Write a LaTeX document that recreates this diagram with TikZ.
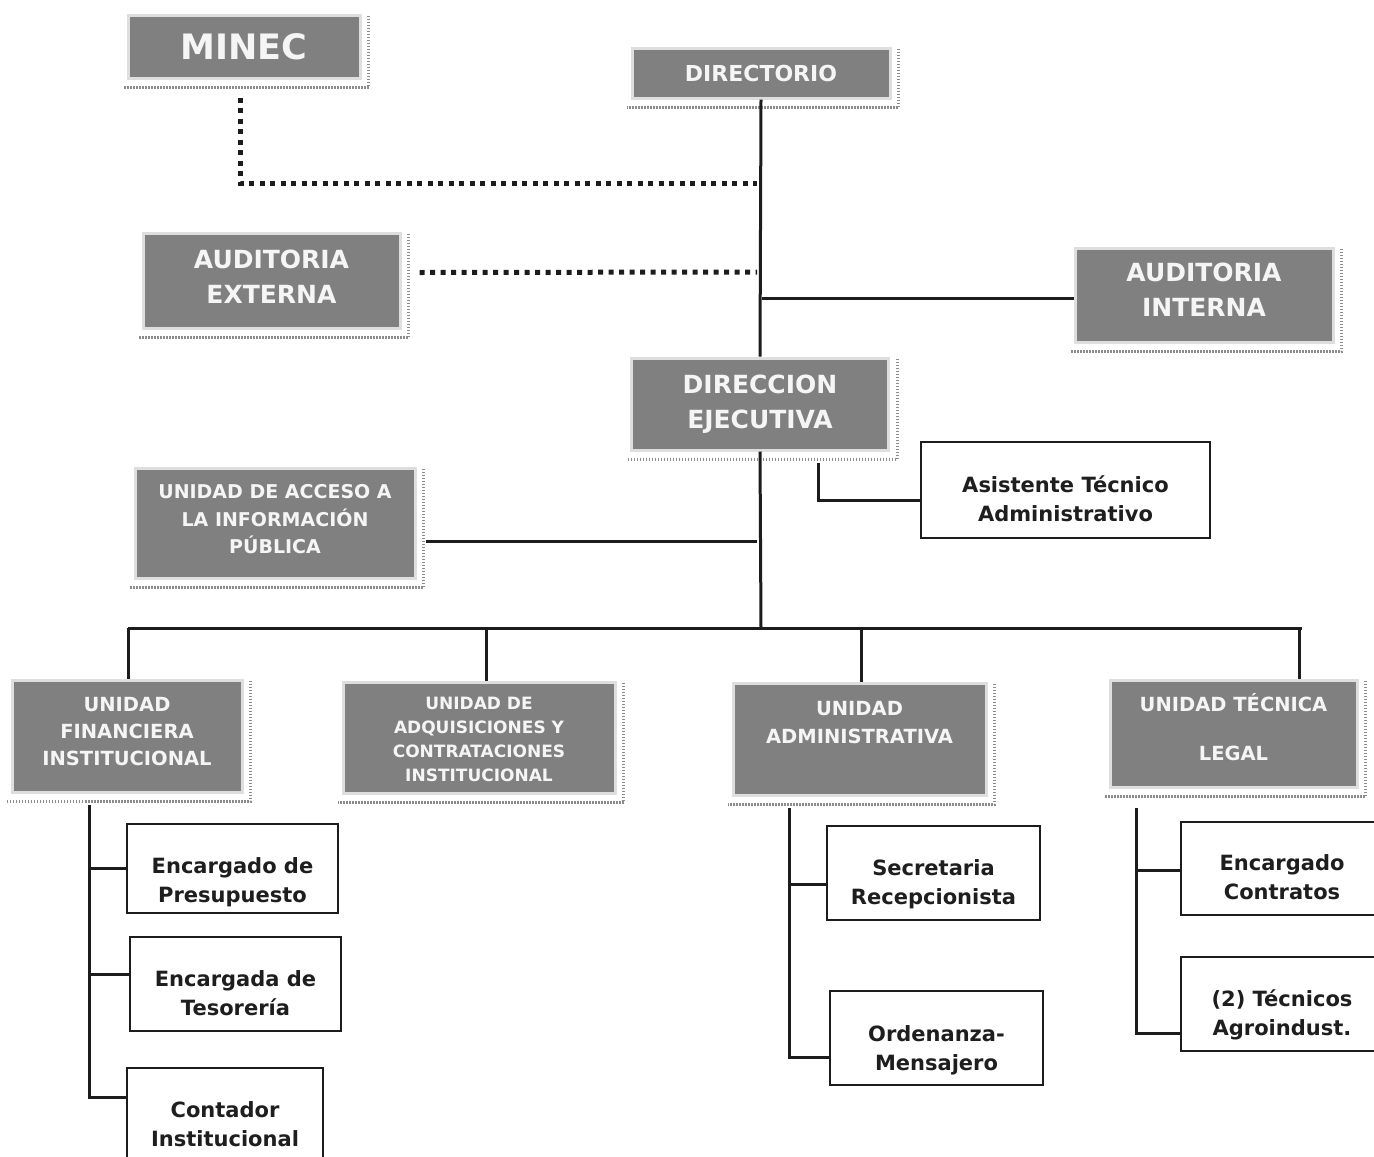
\documentclass[tikz,border=0pt]{standalone}
\usepackage{fontspec}
\setmainfont{DejaVu Sans}
\definecolor{boxgray}{RGB}{128,128,128}
\definecolor{framegray}{RGB}{222,222,222}
\definecolor{shadowgray}{RGB}{140,140,140}
\definecolor{boxtext}{RGB}{245,245,245}
\definecolor{lin}{RGB}{28,28,28}
\definecolor{wtext}{RGB}{30,30,30}
\newcommand{\dnstrut}[1]{\rule{0pt}{#1}}
\begin{document}
\begin{tikzpicture}[x=1pt,y=-1pt,
  gbox/.style={fill=boxgray, draw=framegray, line width=3pt, text=boxtext, align=center, inner sep=0pt},
  wbox/.style={fill=white, draw=lin, line width=2pt, text=wtext, align=center, inner sep=0pt, font=\bfseries\fontsize{21}{29}\selectfont},
  fs/.style 2 args={font=\bfseries\fontsize{#1}{#2}\selectfont},
  up/.style={execute at end node={\rule[-#1]{0pt}{0pt}}},
  conn/.style={draw=lin, line width=3pt},
  dotline/.style={draw=lin, line width=5pt, dash pattern=on 5pt off 5.5pt},
  shd/.style={draw=shadowgray, line width=3pt, dash pattern=on 1.5pt off 1.5pt}]
\useasboundingbox[fill=white] (0,0) rectangle (1374,1157);

% gray boxes
\node[gbox, fs={35}{40}, minimum width=232, minimum height=63] (minec) at (244,46.5) {MINEC};
\node[gbox, fs={22}{28}, minimum width=258, minimum height=50] (dir) at (761,73) {DIRECTORIO};
\node[gbox, fs={25}{35}, up=8pt, minimum width=257, minimum height=95] (audext) at (271.5,280.5) {AUDITORIA\\EXTERNA};
\node[gbox, fs={25}{35}, up=10pt, minimum width=258, minimum height=94] (audint) at (1204,295) {AUDITORIA\\INTERNA};
\node[gbox, fs={25}{35}, minimum width=257, minimum height=92] (direj) at (760,404) {DIRECCION\\EJECUTIVA};
\node[gbox, fs={19}{27.5}, up=8pt, minimum width=280, minimum height=110] (acceso) at (275,523) {UNIDAD DE ACCESO A\\LA INFORMACIÓN\\PÚBLICA};
\node[gbox, fs={19.5}{27}, up=10pt, minimum width=230, minimum height=112] (fin) at (127,736) {UNIDAD\\FINANCIERA\\INSTITUCIONAL};
\node[gbox, fs={17}{24}, minimum width=272, minimum height=111] (adq) at (479,737.5) {\dnstrut{17pt}UNIDAD DE\\ADQUISICIONES Y\\CONTRATACIONES\\INSTITUCIONAL};
\node[gbox, fs={19.5}{28}, up=34pt, minimum width=253, minimum height=112] (adm) at (859.5,739) {UNIDAD\\ADMINISTRATIVA};
\node[gbox, fs={19.5}{27}, up=14pt, minimum width=247, minimum height=107] (legal) at (1233.5,733.5) {UNIDAD TÉCNICA\\[22pt]LEGAL};

\foreach \n in {minec,dir,audext,audint,direj,acceso,fin,adq,adm,legal}
  \draw[shd] ([xshift=7pt,yshift=-2pt]\n.north east) -- ([xshift=7pt,yshift=-8pt]\n.south east) -- ([xshift=-4pt,yshift=-8pt]\n.south west);

% white boxes
\node[wbox, minimum width=289, minimum height=96] (asist) at (1065.5,490) {\dnstrut{34pt}Asistente Técnico\\Administrativo};
\node[wbox, minimum width=211, minimum height=89] (presu) at (232.5,868.5) {\dnstrut{44pt}Encargado de\\Presupuesto};
\node[wbox, minimum width=211, minimum height=94] (teso) at (235.5,984) {\dnstrut{34pt}Encargada de\\Tesorería};
\node[wbox, minimum width=196, minimum height=92] (conta) at (225,1114) {\dnstrut{36pt}Contador\\Institucional};
\node[wbox, minimum width=213, minimum height=94] (secre) at (933.5,873) {\dnstrut{38pt}Secretaria\\Recepcionista};
\node[wbox, minimum width=213, minimum height=94] (orde) at (936.5,1038) {\dnstrut{40pt}Ordenanza-\\Mensajero};
\node[wbox, minimum width=202, minimum height=93] (contr) at (1282,868.5) {\dnstrut{34pt}Encargado\\Contratos};
\node[wbox, minimum width=202, minimum height=94] (tecn) at (1282,1004) {\dnstrut{38pt}(2) Técnicos\\Agroindust.};

% coordinates
\coordinate (t1) at (757,183);
\coordinate (t2) at (757,272);
\coordinate (t3) at (762,298);
\coordinate (t4) at (757,541);
\coordinate (a1) at (818,463);
\coordinate (bus) at (761,628);
\coordinate (b1) at (128,628);
\coordinate (b2) at (486,628);
\coordinate (b3) at (861,628);
\coordinate (b4) at (1299,628);
\coordinate (bend) at (1302,628);
\coordinate (f0) at (89,805);
\coordinate (m0) at (789,808);
\coordinate (l0) at (1136,808);

% connectors
\draw[dotline] ([xshift=-4pt,yshift=-18pt]minec.south) |- (t1);
\draw[dotline] ([xshift=18pt,yshift=8pt]audext.east) -- (t2);
\draw[conn] (dir.south) -- (direj.north);
\draw[conn] (t3) -- (audint.west |- t3);
\draw[conn] (a1) |- ([yshift=-10pt]asist.west);
\draw[conn] ([xshift=9pt,yshift=-18pt]acceso.east) -- (t4);
\draw[conn] (direj.south) -- (bus);
\draw[conn] (b1) -- (bend);
\draw[conn] (b1) -- (b1 |- fin.north);
\draw[conn] (b2) -- (b2 |- adq.north);
\draw[conn] (b3) -- (b3 |- adm.north);
\draw[conn] (b4) -- (b4 |- legal.north);

\draw[conn] (f0) |- ([yshift=17pt]conta.west);
\draw[conn] (f0 |- presu.west) -- (presu.west);
\draw[conn] (f0 |- 0,974) -- (teso.west |- 0,974);
\draw[conn] (m0) |- ([yshift=-19pt]orde.west);
\draw[conn] (m0 |- 0,884) -- (secre.west |- 0,884);
\draw[conn] (l0) |- ([yshift=-29pt]tecn.west);
\draw[conn] (l0 |- 0,870) -- (contr.west |- 0,870);
\end{tikzpicture}
\end{document}
